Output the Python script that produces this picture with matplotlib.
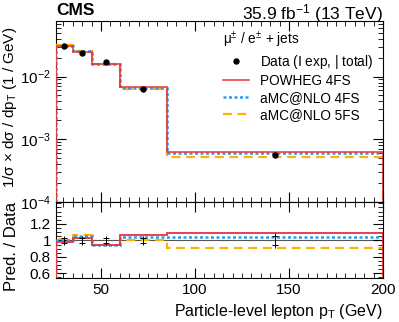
import numpy as np
import matplotlib
matplotlib.use("Agg")
import matplotlib.pyplot as plt
from matplotlib.ticker import MultipleLocator, LogLocator, NullFormatter
from matplotlib.lines import Line2D

plt.rcParams['font.family'] = ['Liberation Sans', 'DejaVu Sans']
plt.rcParams['mathtext.fontset'] = 'custom'
plt.rcParams['mathtext.rm'] = 'Liberation Sans'
plt.rcParams['mathtext.it'] = 'Liberation Sans:italic'

# bin edges (GeV)
edges = [26, 35, 45, 60, 85, 200]
# normalized data
data = [0.0309, 0.0241, 0.0169, 0.00637, 0.00057]
data_err_exp = [0.03, 0.03, 0.03, 0.03, 0.05]     # relative
data_err_tot = [0.05, 0.05, 0.05, 0.05, 0.09]     # relative
# prediction / data ratios
ratio_powheg4 = [0.98, 1.027, 0.94, 1.067, 1.095]
ratio_amc4 = [1.00, 1.055, 0.95, 1.046, 1.046]
ratio_amc5 = [1.02, 1.067, 0.95, 1.006, 0.913]

edges = np.array(edges)
data = np.array(data)
centers = 0.5 * (edges[:-1] + edges[1:])
pow4 = data * np.array(ratio_powheg4)
amc4 = data * np.array(ratio_amc4)
amc5 = data * np.array(ratio_amc5)

c_red = '#e8323c'
c_blue = '#2f9bf0'
c_orange = '#ffb300'
ls_blue = (0, (1.2, 1.0))
ls_orange = (0, (4, 2.5))

fig = plt.figure(figsize=(3.99, 3.22), dpi=100)
ax = fig.add_axes([0.140, 0.373, 0.820, 0.562])
axr = fig.add_axes([0.140, 0.137, 0.820, 0.236], sharex=ax)

ax.stairs(amc5, edges, color=c_orange, lw=1.6, ls=ls_orange, zorder=3)
ax.stairs(amc4, edges, color=c_blue, lw=1.8, ls=ls_blue, zorder=4)
ax.stairs(pow4, edges, color=c_red, lw=1.1, zorder=5)
ax.errorbar(centers, data, yerr=data * np.array(data_err_tot), fmt='o', color='black',
            ms=3.6, elinewidth=0.8, capsize=0, zorder=6)

ax.set_yscale('log')
ax.set_ylim(1e-4, 0.077)
ax.set_xlim(26, 200)
ax.set_ylabel('1/σ × dσ / dp$_\\mathrm{T}$ (1 / GeV)', fontsize=11)
ax.yaxis.set_label_coords(-0.112, 0.52)
ax.yaxis.set_major_locator(LogLocator(base=10))
ax.yaxis.set_minor_locator(LogLocator(base=10, subs=np.arange(2, 10)))
ax.yaxis.set_minor_formatter(NullFormatter())
ax.tick_params(axis='x', labelbottom=False)

handles = [
    Line2D([], [], ls='none', marker='o', color='black', ms=3.6),
    Line2D([], [], color=c_red, lw=1.1),
    Line2D([], [], color=c_blue, lw=1.8, ls=ls_blue),
    Line2D([], [], color=c_orange, lw=1.6, ls=ls_orange),
]
labels = ['Data ($\\mathsf{I}$ exp, $|$ total)', 'POWHEG 4FS', 'aMC@NLO 4FS', 'aMC@NLO 5FS']
leg = ax.legend(handles, labels, loc='upper right',
                bbox_to_anchor=(1.0, 1.01), frameon=False, fontsize=9.8,
                title='μ$^{\\pm}$ / e$^{\\pm}$ + jets', title_fontsize=9.8,
                handlelength=1.9, labelspacing=0.22, borderaxespad=0.35, handletextpad=0.8)
leg._legend_box.align = 'left'

for a in (ax, axr):
    a.tick_params(which='both', direction='in', top=True, right=True, labelsize=11)
    a.tick_params(which='major', length=7)
    a.tick_params(which='minor', length=3.5)
    a.xaxis.set_major_locator(MultipleLocator(50))
    a.xaxis.set_minor_locator(MultipleLocator(5))

# ratio panel
axr.axhline(1.0, color='#555555', lw=0.8, zorder=1)
axr.stairs(ratio_amc5, edges, color=c_orange, lw=1.6, ls=ls_orange, zorder=3)
axr.stairs(ratio_amc4, edges, color=c_blue, lw=1.8, ls=ls_blue, zorder=4)
axr.stairs(ratio_powheg4, edges, color=c_red, lw=1.3, zorder=5)
ones = np.ones(len(centers))
axr.errorbar(centers, ones, yerr=data_err_tot, fmt='none', ecolor='black', elinewidth=0.7,
             capsize=0, zorder=6)
axr.errorbar(centers, ones, yerr=data_err_exp, fmt='none', ecolor='black', elinewidth=0.7,
             capsize=2.5, capthick=0.7, zorder=6)
axr.set_ylim(0.545, 1.467)
axr.set_yticks([0.6, 0.8, 1.0, 1.2])
axr.set_yticklabels(['0.6', '0.8', '1', '1.2'])
axr.yaxis.set_minor_locator(MultipleLocator(0.05))
axr.set_ylabel('Pred. / Data', fontsize=12)
axr.yaxis.set_label_coords(-0.112, 0.41)
axr.set_xlabel('Particle-level lepton p$_\\mathrm{T}$ (GeV)', fontsize=11.5, loc='right')
axr.set_xlim(26, 200)

fig.text(0.140, 1 - 3 / 322, 'CMS', fontsize=12.5, fontweight='bold', ha='left', va='top')
fig.text(0.960, 1 - 2 / 322, '35.9 fb$^{-1}$ (13 TeV)', fontsize=12.5, ha='right', va='top')

fig.savefig('out.png', dpi=100)
